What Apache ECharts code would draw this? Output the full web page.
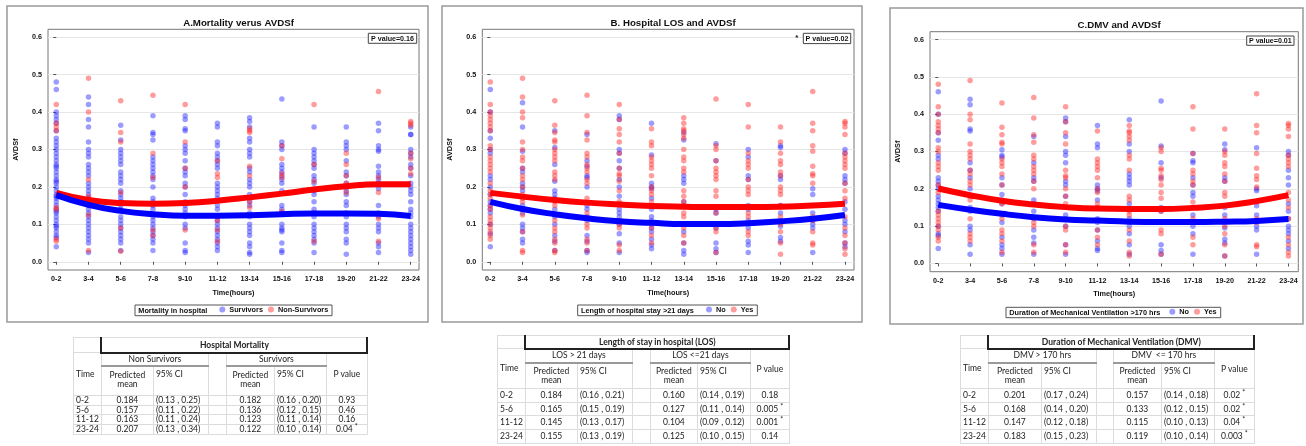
<!DOCTYPE html>
<html>
<head>
<meta charset="utf-8">
<script src="https://cdn.jsdelivr.net/npm/echarts@6/dist/echarts.min.js"></script>
<style>
body { margin: 0; background: #fff; }
#chart { position: absolute; left: 0; top: 0; width: 1306px; height: 446px; }
.tbl { position: absolute; }
.tbl table { border-collapse: collapse; table-layout: fixed; font-family: Lato, 'Liberation Sans', sans-serif; font-size: 8.5px; color: #222; }
.tbl td { padding: 0 2px; line-height: 1; border: 1px solid #dcdcdc; white-space: nowrap; overflow: visible; }
.tbl td.ttl { text-align: center; font-weight: bold; border-left: 2px solid #222; border-right: 2px solid #222; border-bottom: 2px solid #222; }
.tbl td.grp { text-align: center; border-bottom: 2px solid #999; }
.tbl td.tm { text-align: left; }
.tbl td.pv { text-align: center; }
.tbl td.pm1 { text-align: center; vertical-align: bottom; border-bottom: none; }
.tbl td.pm2 { text-align: center; vertical-align: top; border-top: none; }
.tbl td.ci { text-align: left; vertical-align: top; padding-top: 3px; }
.tbl tr.first td { border-top: 1px solid #888; }
.tbl td.c { text-align: center; }
.tbl td.l { text-align: left; }
.tbl .st { position: relative; top: -3px; font-size: 7px; margin-left: 2px; }
</style>
</head>
<body>
<div id="chart"></div>
<div id="tA" class="tbl" style="left:73px;top:337px"></div>
<div id="tB" class="tbl" style="left:497px;top:335px"></div>
<div id="tC" class="tbl" style="left:960px;top:335px"></div>
<script>
var times = ['0-2', '3-4', '5-6', '7-8', '9-10', '11-12', '13-14', '15-16', '17-18', '19-20', '21-22', '23-24'];
var yTicks = [0, 0.1, 0.2, 0.3, 0.4, 0.5, 0.6];

// fitted means (thick curves)
var fitA_surv = [0.178, 0.152, 0.136, 0.127, 0.123, 0.123, 0.124, 0.127, 0.129, 0.129, 0.128, 0.122];
var fitA_non = [0.184, 0.165, 0.157, 0.155, 0.157, 0.163, 0.172, 0.182, 0.193, 0.202, 0.207, 0.207];
var fitB_no = [0.160, 0.141, 0.127, 0.116, 0.108, 0.104, 0.101, 0.101, 0.103, 0.108, 0.115, 0.125];
var fitB_yes = [0.184, 0.174, 0.165, 0.158, 0.153, 0.149, 0.147, 0.146, 0.146, 0.147, 0.150, 0.155];
var fitC_no = [0.157, 0.144, 0.133, 0.124, 0.118, 0.115, 0.112, 0.111, 0.111, 0.112, 0.114, 0.119];
var fitC_yes = [0.201, 0.183, 0.168, 0.158, 0.151, 0.147, 0.146, 0.146, 0.149, 0.155, 0.167, 0.183];

// observed AVDSf per time window
var ptsA_surv = [
  [0.48,0.46,0.40,0.39,0.38,0.37,0.35,0.33,0.32,0.31,0.30,0.29,0.28,0.27,0.26,0.255,0.25,0.24,0.23,0.22,0.215,0.21,0.20,0.19,0.18,0.175,0.17,0.16,0.15,0.14,0.135,0.13,0.12,0.11,0.10,0.095,0.09,0.08,0.07,0.065,0.04],
  [0.44,0.42,0.38,0.36,0.32,0.30,0.29,0.28,0.26,0.25,0.24,0.23,0.21,0.20,0.19,0.18,0.17,0.16,0.15,0.14,0.13,0.12,0.11,0.10,0.09,0.08,0.07,0.06,0.05,0.025],
  [0.365,0.325,0.30,0.29,0.28,0.27,0.26,0.24,0.23,0.22,0.21,0.19,0.18,0.17,0.16,0.15,0.14,0.12,0.11,0.10,0.09,0.08,0.07,0.06,0.05,0.03],
  [0.39,0.345,0.34,0.325,0.28,0.27,0.26,0.25,0.24,0.23,0.22,0.20,0.17,0.16,0.15,0.14,0.12,0.11,0.10,0.09,0.08,0.07,0.06,0.05,0.03],
  [0.39,0.38,0.355,0.35,0.31,0.30,0.29,0.27,0.25,0.24,0.23,0.21,0.20,0.18,0.16,0.15,0.14,0.13,0.12,0.10,0.09,0.05,0.03,0.025],
  [0.37,0.36,0.32,0.31,0.29,0.28,0.27,0.26,0.25,0.21,0.20,0.19,0.18,0.17,0.15,0.14,0.12,0.11,0.10,0.09,0.08,0.07,0.06,0.05,0.04,0.03],
  [0.385,0.375,0.36,0.33,0.32,0.30,0.29,0.28,0.25,0.24,0.22,0.21,0.20,0.18,0.16,0.15,0.13,0.12,0.10,0.09,0.08,0.07,0.05,0.04,0.025,0.02],
  [0.435,0.32,0.31,0.30,0.26,0.25,0.24,0.23,0.22,0.21,0.19,0.15,0.14,0.13,0.10,0.09,0.085,0.08,0.05,0.03,0.025],
  [0.36,0.30,0.29,0.28,0.27,0.26,0.25,0.23,0.22,0.21,0.19,0.18,0.16,0.14,0.13,0.12,0.10,0.09,0.08,0.07,0.06,0.05,0.025],
  [0.36,0.32,0.31,0.30,0.27,0.24,0.23,0.21,0.20,0.19,0.18,0.16,0.15,0.13,0.12,0.10,0.09,0.08,0.06,0.05,0.02],
  [0.37,0.35,0.31,0.30,0.295,0.255,0.24,0.23,0.22,0.21,0.195,0.15,0.13,0.12,0.10,0.09,0.08,0.05,0.04,0.025],
  [0.36,0.34,0.34,0.30,0.29,0.28,0.26,0.25,0.23,0.21,0.20,0.19,0.18,0.16,0.14,0.13,0.12,0.10,0.09,0.08,0.07,0.06,0.05,0.04,0.03,0.02]
];
var ptsA_non = [
  [0.42,0.37,0.36,0.35,0.145,0.14,0.06,0.055],
  [0.49,0.40,0.22,0.175,0.125,0.03],
  [0.43,0.345,0.32,0.185,0.09,0.028],
  [0.445,0.29,0.225,0.085,0.07],
  [0.42,0.32,0.25,0.20,0.085],
  [0.27,0.235,0.225,0.11,0.085,0.055],
  [0.355,0.35,0.345,0.255,0.23,0.16,0.145],
  [0.31,0.275,0.235,0.225,0.135],
  [0.42,0.26,0.215,0.195,0.13,0.055],
  [0.29,0.26,0.23,0.21,0.185],
  [0.455,0.225,0.185,0.115,0.055],
  [0.375,0.37,0.365,0.29,0.275,0.25,0.235]
];
var ptsB_no = [
  [0.46,0.40,0.35,0.33,0.30,0.29,0.23,0.22,0.20,0.18,0.16,0.15,0.14,0.13,0.10,0.075,0.04],
  [0.425,0.36,0.295,0.25,0.24,0.21,0.20,0.19,0.15,0.13,0.10,0.09,0.08,0.06,0.05],
  [0.35,0.305,0.26,0.215,0.19,0.18,0.17,0.14,0.12,0.10,0.07,0.055,0.03],
  [0.34,0.27,0.255,0.23,0.225,0.20,0.15,0.14,0.12,0.11,0.07,0.055,0.03,0.025],
  [0.39,0.38,0.30,0.29,0.27,0.25,0.22,0.20,0.175,0.155,0.14,0.13,0.12,0.10,0.075,0.05,0.025],
  [0.37,0.285,0.21,0.20,0.195,0.17,0.14,0.12,0.11,0.10,0.09,0.08,0.06,0.045,0.035],
  [0.345,0.325,0.23,0.22,0.21,0.16,0.10,0.08,0.05,0.03,0.02],
  [0.315,0.27,0.145,0.14,0.13,0.09,0.05,0.035,0.025],
  [0.30,0.28,0.23,0.22,0.15,0.14,0.11,0.09,0.055,0.045,0.025],
  [0.31,0.305,0.23,0.22,0.15,0.13,0.095,0.065,0.055],
  [0.195,0.18,0.13,0.11,0.10,0.09,0.025],
  [0.30,0.29,0.23,0.22,0.21,0.16,0.14,0.11,0.10,0.08,0.05,0.04]
];
var ptsB_yes = [
  [0.48,0.42,0.40,0.39,0.38,0.37,0.36,0.35,0.31,0.30,0.28,0.27,0.26,0.25,0.24,0.21,0.19,0.18,0.17,0.15,0.14,0.12,0.11,0.10,0.09,0.08,0.07,0.06],
  [0.49,0.44,0.40,0.385,0.32,0.30,0.28,0.27,0.25,0.23,0.22,0.20,0.18,0.17,0.16,0.14,0.125,0.08,0.03,0.025],
  [0.43,0.365,0.345,0.325,0.32,0.30,0.29,0.28,0.27,0.24,0.23,0.22,0.16,0.15,0.11,0.09,0.08,0.06,0.05,0.03,0.025],
  [0.445,0.39,0.345,0.325,0.29,0.28,0.26,0.25,0.24,0.22,0.21,0.17,0.13,0.10,0.09,0.06,0.05,0.03],
  [0.42,0.38,0.355,0.34,0.32,0.29,0.25,0.235,0.23,0.215,0.19,0.16,0.11,0.10,0.09,0.045,0.03],
  [0.355,0.32,0.31,0.28,0.27,0.26,0.25,0.23,0.20,0.19,0.18,0.16,0.09,0.07,0.05],
  [0.385,0.37,0.355,0.35,0.34,0.33,0.30,0.28,0.27,0.25,0.24,0.19,0.175,0.16,0.15,0.13,0.12,0.09,0.07,0.05],
  [0.435,0.31,0.30,0.27,0.25,0.24,0.23,0.22,0.19,0.175,0.13,0.10,0.09,0.08,0.025],
  [0.42,0.36,0.29,0.27,0.26,0.25,0.22,0.20,0.19,0.18,0.13,0.12,0.08,0.07],
  [0.36,0.32,0.29,0.27,0.26,0.24,0.23,0.20,0.19,0.18,0.15,0.12,0.10,0.08,0.05,0.02],
  [0.455,0.37,0.35,0.31,0.295,0.255,0.235,0.23,0.21,0.12,0.11,0.08,0.05,0.045],
  [0.375,0.37,0.36,0.34,0.29,0.28,0.27,0.26,0.25,0.21,0.19,0.17,0.12,0.09,0.07,0.05,0.035,0.02]
];
var ptsC_no = [
  [0.46,0.40,0.35,0.33,0.29,0.28,0.23,0.22,0.21,0.20,0.18,0.17,0.16,0.15,0.14,0.10,0.08,0.075,0.04],
  [0.44,0.425,0.36,0.355,0.27,0.25,0.23,0.20,0.15,0.14,0.10,0.09,0.05,0.025],
  [0.305,0.29,0.285,0.23,0.21,0.185,0.17,0.16,0.13,0.11,0.07,0.05,0.04,0.025],
  [0.34,0.27,0.23,0.22,0.17,0.16,0.14,0.12,0.09,0.07,0.055,0.025],
  [0.39,0.38,0.34,0.30,0.29,0.27,0.22,0.21,0.18,0.13,0.12,0.10,0.05,0.025],
  [0.37,0.32,0.31,0.21,0.20,0.195,0.17,0.15,0.12,0.11,0.09,0.06,0.04,0.035],
  [0.385,0.32,0.30,0.24,0.23,0.22,0.21,0.16,0.12,0.10,0.08,0.05,0.025],
  [0.435,0.315,0.27,0.23,0.15,0.14,0.11,0.05,0.035,0.025],
  [0.295,0.275,0.27,0.23,0.21,0.19,0.18,0.15,0.13,0.10,0.08,0.025],
  [0.32,0.305,0.23,0.22,0.15,0.13,0.095,0.065,0.055,0.02],
  [0.31,0.20,0.195,0.155,0.13,0.10,0.09,0.025],
  [0.30,0.29,0.25,0.23,0.21,0.16,0.14,0.12,0.10,0.09,0.08,0.06,0.04]
];
var ptsC_yes = [
  [0.48,0.42,0.40,0.38,0.37,0.36,0.35,0.31,0.30,0.27,0.26,0.25,0.21,0.19,0.14,0.13,0.12,0.11,0.10,0.09,0.07,0.06],
  [0.49,0.40,0.385,0.32,0.30,0.29,0.28,0.25,0.24,0.22,0.21,0.18,0.17,0.12,0.08,0.07,0.06],
  [0.43,0.365,0.345,0.325,0.32,0.28,0.27,0.26,0.24,0.21,0.16,0.12,0.09,0.08,0.06,0.03],
  [0.445,0.39,0.345,0.325,0.29,0.28,0.26,0.25,0.24,0.22,0.20,0.11,0.10,0.05,0.03],
  [0.42,0.38,0.35,0.32,0.25,0.235,0.23,0.20,0.18,0.16,0.10,0.09,0.05,0.03],
  [0.355,0.28,0.27,0.26,0.25,0.23,0.20,0.19,0.16,0.09,0.07,0.05],
  [0.37,0.355,0.35,0.34,0.33,0.29,0.28,0.25,0.18,0.17,0.14,0.13,0.09,0.06,0.03,0.02],
  [0.31,0.30,0.255,0.25,0.235,0.225,0.21,0.19,0.175,0.14,0.09,0.08,0.025],
  [0.42,0.36,0.295,0.25,0.24,0.22,0.21,0.165,0.12,0.07,0.05],
  [0.36,0.30,0.29,0.27,0.26,0.24,0.22,0.19,0.18,0.12,0.10,0.08,0.05,0.02],
  [0.455,0.37,0.35,0.295,0.255,0.235,0.225,0.205,0.165,0.12,0.11,0.05,0.045],
  [0.375,0.37,0.36,0.34,0.29,0.28,0.27,0.26,0.19,0.17,0.15,0.12,0.07,0.05,0.03,0.02]
];

// tables
var tabTimes = ['0-2', '5-6', '11-12', '23-24'];
var tabA_mean1 = ['0.184', '0.157', '0.163', '0.207'];
var tabA_ci1 = ['(0.13 , 0.25)', '(0.11 , 0.22)', '(0.11 , 0.24)', '(0.13 , 0.34)'];
var tabA_mean2 = ['0.182', '0.136', '0.123', '0.122'];
var tabA_ci2 = ['(0.16 , 0.20)', '(0.12 , 0.15)', '(0.11 , 0.14)', '(0.10 , 0.14)'];
var tabA_p = ['0.93', '0.46', '0.16', '0.04'];
var tabA_sig = [false, false, false, true];
var tabB_mean1 = ['0.184', '0.165', '0.145', '0.155'];
var tabB_ci1 = ['(0.16 , 0.21)', '(0.15 , 0.19)', '(0.13 , 0.17)', '(0.13 , 0.19)'];
var tabB_mean2 = ['0.160', '0.127', '0.104', '0.125'];
var tabB_ci2 = ['(0.14 , 0.19)', '(0.11 , 0.14)', '(0.09 , 0.12)', '(0.10 , 0.15)'];
var tabB_p = ['0.18', '0.005', '0.001', '0.14'];
var tabB_sig = [false, true, true, false];
var tabC_mean1 = ['0.201', '0.168', '0.147', '0.183'];
var tabC_ci1 = ['(0.17 , 0.24)', '(0.14 , 0.20)', '(0.12 , 0.18)', '(0.15 , 0.23)'];
var tabC_mean2 = ['0.157', '0.133', '0.115', '0.119'];
var tabC_ci2 = ['(0.14 , 0.18)', '(0.12 , 0.15)', '(0.10 , 0.13)', '(0.10 , 0.14)'];
var tabC_p = ['0.02', '0.02', '0.04', '0.003'];
var tabC_sig = [true, true, true, true];

var BLUE_DOT = 'rgba(40,40,255,0.58)';
var RED_DOT = 'rgba(255,40,40,0.58)';
var FONT = 'Liberation Sans';

var panels = [
  { frame: [7, 6, 421, 316], grid: [48, 29.3, 371, 240.7], xr: [-0.257, 11.257], title: 'A.Mortality verus AVDSf',
    pBox: [368.3, 33.3, 48.4, 10], pText: 'P value=0.16', star: false,
    legBox: [135, 305, 197, 10.7], legLabel: 'Mortality in hospital', legLeft: 219.3,
    names: ['Survivors', 'Non-Survivors'], blue: ptsA_surv, red: ptsA_non, fitBlue: fitA_surv, fitRed: fitA_non },
  { frame: [442, 6, 420, 316], grid: [482.3, 29.3, 371.7, 240.7], xr: [-0.248, 11.28], title: 'B. Hospital LOS and AVDSf',
    pBox: [803.3, 33.3, 47.4, 10.3], pText: 'P value=0.02', star: true,
    legBox: [577.7, 305, 179.6, 10.7], legLabel: 'Length of hospital stay >21 days', legLeft: 706,
    names: ['No', 'Yes'], blue: ptsB_no, red: ptsB_yes, fitBlue: fitB_no, fitRed: fitB_yes },
  { frame: [890, 8, 413, 316], grid: [930, 31.7, 368.3, 240], xr: [-0.26, 11.31], title: 'C.DMV and AVDSf',
    pBox: [1246.7, 36, 47.3, 9.3], pText: 'P value=0.01', star: false,
    legBox: [1006, 307.3, 214.7, 10.4], legLabel: 'Duration of Mechanical Ventilation >170 hrs', legLeft: 1169.3,
    names: ['No', 'Yes'], blue: ptsC_no, red: ptsC_yes, fitBlue: fitC_no, fitRed: fitC_yes }
];

function toPts(cols) {
  var out = [];
  cols.forEach(function (vals, i) {
    vals.forEach(function (v) { out.push([i, v]); });
  });
  return out;
}

var grids = [], xAxes = [], yAxes = [], series = [], titles = [], legends = [], graphics = [];
panels.forEach(function (p, k) {
  grids.push({ left: p.grid[0], top: p.grid[1], width: p.grid[2], height: p.grid[3],
    show: true, borderColor: '#777', borderWidth: 1 });
  xAxes.push({
    type: 'value', gridIndex: k, min: p.xr[0], max: p.xr[1],
    name: 'Time(hours)', nameLocation: 'middle', nameGap: 19,
    nameTextStyle: { fontFamily: FONT, fontWeight: 'bold', fontSize: 7.3, color: '#111' },
    axisLine: { show: false },
    axisTick: { show: true, length: 3, customValues: times.map(function (t, i) { return i; }), lineStyle: { color: '#555' } },
    axisLabel: { margin: 6, customValues: times.map(function (t, i) { return i; }),
      formatter: function (v) { return times[Math.round(v)]; },
      fontFamily: FONT, fontWeight: 'bold', fontSize: 7.2, color: '#111' },
    splitLine: { show: false }
  });
  yAxes.push({
    type: 'value', gridIndex: k, min: -0.022, max: 0.621,
    name: 'AVDSf', nameLocation: 'middle', nameGap: 29,
    nameTextStyle: { fontFamily: FONT, fontWeight: 'bold', fontSize: 7.3, color: '#111' },
    axisLine: { show: false },
    axisTick: { show: true, length: 3, customValues: yTicks, lineStyle: { color: '#555' } },
    axisLabel: { margin: 6, customValues: yTicks, formatter: function (v) { return v.toFixed(1); },
      fontFamily: FONT, fontWeight: 'bold', fontSize: 7.2, color: '#111' },
    splitLine: { show: true, lineStyle: { color: '#e6e6e6', width: 1 } }
  });
  series.push({ type: 'scatter', name: p.names[0], xAxisIndex: k, yAxisIndex: k, data: toPts(p.blue),
    symbolSize: 5.5, itemStyle: { color: BLUE_DOT }, z: 2, silent: true });
  series.push({ type: 'scatter', name: p.names[1], xAxisIndex: k, yAxisIndex: k, data: toPts(p.red),
    symbolSize: 5.5, itemStyle: { color: RED_DOT }, z: 2, silent: true });
  series.push({ type: 'line', name: p.names[1] + ' fit', xAxisIndex: k, yAxisIndex: k,
    data: p.fitRed.map(function (v, i) { return [i, v]; }), smooth: 0.5, symbol: 'none',
    lineStyle: { color: '#ff0000', width: 6 }, z: 3, silent: true });
  series.push({ type: 'line', name: p.names[0] + ' fit', xAxisIndex: k, yAxisIndex: k,
    data: p.fitBlue.map(function (v, i) { return [i, v]; }), smooth: 0.5, symbol: 'none',
    lineStyle: { color: '#0000ff', width: 6 }, z: 3, silent: true });

  titles.push({ text: p.title, left: p.grid[0] + p.grid[2] / 2, top: p.grid[1] - 16, textAlign: 'center',
    textStyle: { fontFamily: FONT, fontWeight: 'bold', fontSize: 9.7, color: '#111' } });
  legends.push({ data: p.names, left: p.legLeft, top: p.legBox[1] + 1, padding: 0, itemGap: 5,
    itemWidth: 6, itemHeight: 6, icon: 'circle',
    textStyle: { fontFamily: FONT, fontWeight: 'bold', fontSize: 7.3, color: '#111', padding: [0, 0, 0, -1] } });

  graphics.push({ type: 'rect', shape: { x: p.frame[0], y: p.frame[1], width: p.frame[2], height: p.frame[3] },
    style: { fill: 'none', stroke: '#999', lineWidth: 1.5 }, silent: true, z: -10 });
  graphics.push({ type: 'rect', shape: { x: p.pBox[0], y: p.pBox[1], width: p.pBox[2], height: p.pBox[3] },
    style: { fill: '#fff', stroke: '#444', lineWidth: 1 }, silent: true, z: 10 });
  graphics.push({ type: 'text', x: p.pBox[0] + p.pBox[2] / 2, y: p.pBox[1] + p.pBox[3] / 2 + 0.5, silent: true, z: 11,
    style: { text: p.pText, fill: '#111', font: 'bold 7.1px "Liberation Sans"', align: 'center', verticalAlign: 'middle' } });
  if (p.star) {
    graphics.push({ type: 'text', x: p.pBox[0] - 6.5, y: p.pBox[1] + 4, silent: true, z: 11,
      style: { text: '*', fill: '#111', font: 'bold 8px "Liberation Sans"', align: 'center', verticalAlign: 'middle' } });
  }
  graphics.push({ type: 'rect', shape: { x: p.legBox[0], y: p.legBox[1], width: p.legBox[2], height: p.legBox[3] },
    style: { fill: 'none', stroke: '#555', lineWidth: 1 }, silent: true });
  graphics.push({ type: 'text', x: p.legBox[0] + 3.3, y: p.legBox[1] + p.legBox[3] / 2 + 0.5, silent: true,
    style: { text: p.legLabel, fill: '#111', font: 'bold 7.3px "Liberation Sans"', align: 'left', verticalAlign: 'middle' } });
});

var chart = echarts.init(document.getElementById('chart'), null, { renderer: 'canvas' });
chart.setOption({
  animation: false,
  backgroundColor: '#fff',
  title: titles,
  legend: legends,
  grid: grids,
  xAxis: xAxes,
  yAxis: yAxes,
  series: series,
  graphic: graphics
});

function buildTable(id, t) {
  var h = '<table><colgroup>' + t.cols.map(function (w) { return '<col style="width:' + w + 'px">'; }).join('') + '</colgroup>';
  h += '<tr style="height:' + t.hRows[0] + 'px"><td></td><td colspan="6" class="ttl">' + t.title + '</td></tr>';
  h += '<tr style="height:' + t.hRows[1] + 'px"><td rowspan="3" class="tm">Time</td><td colspan="2" class="grp">' + t.g1 +
       '</td><td rowspan="3"></td><td colspan="2" class="grp">' + t.g2 + '</td><td rowspan="3" class="pv">P value</td></tr>';
  h += '<tr style="height:' + t.hRows[2] + 'px"><td class="pm1">Predicted</td><td rowspan="2" class="ci">95% CI</td>' +
       '<td class="pm1">Predicted</td><td rowspan="2" class="ci">95% CI</td></tr>';
  h += '<tr style="height:' + t.hRows[3] + 'px"><td class="pm2">mean</td><td class="pm2">mean</td></tr>';
  tabTimes.forEach(function (tm, i) {
    h += '<tr style="height:' + t.dRow + 'px"' + (i === 0 ? ' class="first"' : '') + '>' +
      '<td class="l">' + tm + '</td><td class="c">' + t.m1[i] + '</td><td class="l">' + t.c1[i] + '</td><td></td>' +
      '<td class="c">' + t.m2[i] + '</td><td class="l">' + t.c2[i] + '</td>' +
      '<td class="c">' + t.p[i] + (t.sig[i] ? '<span class="st">*</span>' : '') + '</td></tr>';
  });
  h += '</table>';
  document.getElementById(id).innerHTML = h;
}

buildTable('tA', { cols: [27, 52, 55, 18, 48, 52, 41], hRows: [15, 13, 14, 16], dRow: 9.7,
  title: 'Hospital Mortality', g1: 'Non Survivors', g2: 'Survivors',
  m1: tabA_mean1, c1: tabA_ci1, m2: tabA_mean2, c2: tabA_ci2, p: tabA_p, sig: tabA_sig });
buildTable('tB', { cols: [26, 52, 55, 18, 47, 53, 39], hRows: [13, 14, 13, 13], dRow: 13.7,
  title: 'Length of stay in hospital (LOS)', g1: 'LOS &gt; 21 days', g2: 'LOS &lt;=21 days',
  m1: tabB_mean1, c1: tabB_ci1, m2: tabB_mean2, c2: tabB_ci2, p: tabB_p, sig: tabB_sig });
buildTable('tC', { cols: [27, 53, 55, 17, 48, 53, 40], hRows: [13, 14, 13, 13], dRow: 13.7,
  title: 'Duration of Mechanical Ventilation (DMV)', g1: 'DMV &gt; 170 hrs', g2: 'DMV &nbsp;&lt;= 170 hrs',
  m1: tabC_mean1, c1: tabC_ci1, m2: tabC_mean2, c2: tabC_ci2, p: tabC_p, sig: tabC_sig });
</script>
</body>
</html>
